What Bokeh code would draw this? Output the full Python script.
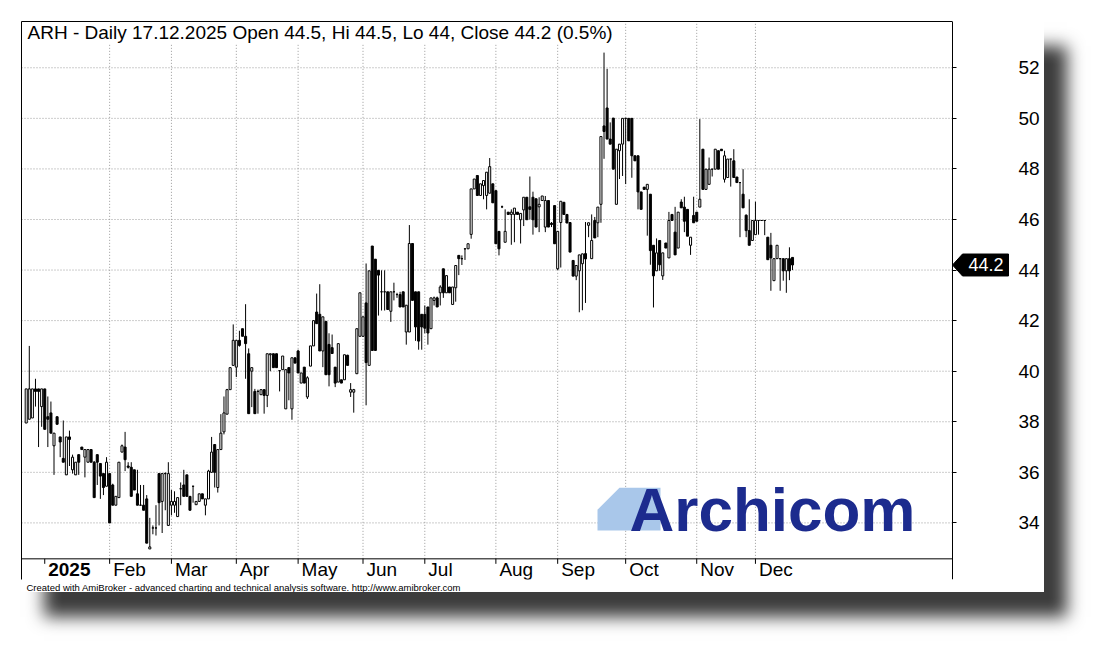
import pandas as pd
from bokeh.plotting import figure
from bokeh.models import (Range1d, FixedTicker, LinearAxis, Label,
                          Title, ColumnDataSource)
from bokeh.embed import file_html
from bokeh.resources import INLINE
from bokeh.core.properties import value

# ---------------- data (ARH daily, 18.12.2024 - 17.12.2025) ----------------
opens = [
    37.95, 38.1, 38.15, 39.3, 39.3, 38.6, 39.3, 38.2, 38.35, 37.05,
    38.2, 37.4, 36.55, 35.9, 37.4, 36.1, 35.9, 36.7, 37.0, 36.6,
    36.4, 36.9, 36.4, 36.7, 36.35, 35.95, 35.45, 35.95, 35.5, 34.7,
    35.0, 36.8, 37.0, 36.25, 36.2, 36.1, 35.15, 34.7, 34.7, 34.95,
    32.97, 33.8, 33.8, 35.95, 34.85, 35.95, 33.9, 34.7, 34.7, 34.25,
    35.35, 35.5, 35.9, 35.05, 35.45, 34.72, 34.85, 35.15, 34.7, 34.95,
    36.0, 37.1, 35.4, 36.9, 37.6, 38.3, 39.27, 40.23, 40.16, 41.22,
    41.68, 41.38, 40.69, 40.0, 39.2, 39.2, 39.07, 39.27, 39.04, 40.65,
    40.69, 40.69, 40.02, 40.06, 38.51, 40.14, 38.51, 40.53, 40.8, 39.53,
    40.16, 38.98, 40.2, 41.0, 42.34, 42.25, 40.8, 41.97, 41.06, 40.93,
    40.16, 39.57, 39.66, 39.66, 40.63, 39.17, 39.17, 39.9, 41.38, 41.38,
    42.7, 40.23, 44.95, 44.43, 43.99, 43.14, 43.14, 43.14, 42.37, 43.14,
    43.03, 43.03, 43.14, 41.55, 41.55, 45.05, 43.14, 43.14, 42.25, 42.25,
    42.54, 41.68, 42.8, 42.9, 43.1, 44.05, 43.1, 43.33, 42.64, 43.3,
    44.58, 44.45, 44.84, 44.84, 45.41, 47.21, 47.74, 46.95, 47.34, 46.95,
    47.04, 47.41, 47.14, 45.53, 46.5, 45.1, 46.29, 46.2, 46.2, 46.29,
    45.99, 46.38, 46.88, 46.5, 46.88, 46.82, 46.5, 46.75, 45.7, 46.75,
    45.85, 46.55, 44.05, 45.88, 46.68, 46.2, 45.88, 44.38, 43.76, 43.97,
    44.25, 44.65, 45.77, 44.45, 45.96, 45.87, 46.6, 49.7, 50.41, 49.18,
    50.01, 46.6, 48.72, 48.98, 50.0, 50.0, 50.0, 48.52, 48.52, 47.09,
    47.28, 47.19, 47.0, 44.98, 43.97, 45.17, 43.77, 45.07, 44.48, 46.2,
    45.5, 44.87, 46.69, 46.49, 46.4, 44.98, 46.16, 46.29, 46.49, 48.78,
    47.19, 47.39, 47.99, 47.99, 48.72, 48.78, 47.59, 47.66, 48.39, 48.32,
    47.68, 47.46, 47.0, 46.17, 45.56, 45.17, 45.4, 45.96, 45.96, 45.96,
    45.3, 44.98, 43.58, 44.45, 44.45, 44.45, 43.97, 44.45, 44.5,
]
highs = [
    39.3, 41.0, 39.3, 39.7, 39.3, 39.3, 39.3, 39.0, 38.8, 37.55,
    38.2, 37.4, 38.05, 37.4, 37.65, 36.7, 36.4, 36.7, 37.0, 36.9,
    36.9, 36.9, 36.45, 36.7, 36.35, 35.95, 36.6, 35.95, 35.55, 35.05,
    36.4, 37.1, 37.6, 36.4, 36.4, 36.1, 36.1, 35.5, 35.5, 35.1,
    34.2, 33.9, 34.7, 35.95, 35.95, 36.0, 36.4, 35.3, 35.25, 35.0,
    35.6, 36.1, 35.9, 35.05, 35.45, 34.85, 35.15, 35.15, 34.95, 36.1,
    37.4, 37.1, 36.9, 38.3, 39.0, 39.3, 40.14, 41.85, 41.22, 41.6,
    41.68, 42.65, 40.9, 40.14, 39.3, 39.27, 39.27, 39.27, 40.69, 40.69,
    40.69, 40.69, 40.02, 40.6, 40.06, 40.16, 40.53, 40.53, 40.85, 39.93,
    40.16, 39.8, 41.0, 42.0, 43.07, 43.44, 42.15, 41.97, 41.5, 41.45,
    40.16, 41.09, 39.66, 40.65, 40.65, 39.53, 39.3, 41.68, 43.1, 42.15,
    44.26, 43.97, 44.95, 44.43, 43.99, 43.99, 43.99, 43.14, 43.14, 43.5,
    43.1, 43.14, 43.14, 42.61, 45.78, 45.05, 43.14, 43.14, 42.25, 42.6,
    42.54, 42.9, 42.95, 42.95, 43.4, 44.05, 43.78, 43.33, 43.33, 44.18,
    44.58, 44.58, 44.84, 45.04, 47.21, 47.6, 47.74, 47.41, 47.54, 47.87,
    48.43, 47.41, 47.14, 45.53, 46.55, 46.4, 46.29, 46.4, 46.45, 46.29,
    46.24, 46.88, 46.88, 47.7, 47.1, 46.82, 46.88, 46.93, 46.93, 46.75,
    45.9, 46.55, 45.53, 46.72, 46.68, 46.2, 45.88, 44.38, 44.2, 44.6,
    44.65, 45.9, 45.87, 46.2, 46.1, 46.49, 49.28, 52.6, 51.96, 49.84,
    50.01, 48.78, 48.98, 50.0, 50.0, 50.0, 50.0, 48.52, 48.52, 47.09,
    47.28, 47.39, 47.0, 44.98, 45.25, 45.17, 44.68, 45.07, 46.3, 46.2,
    46.5, 46.29, 46.8, 46.9, 46.4, 45.3, 46.9, 46.29, 49.97, 48.78,
    47.99, 48.45, 47.99, 48.78, 48.72, 48.78, 48.72, 48.39, 48.4, 48.78,
    47.68, 47.46, 47.99, 46.2, 46.8, 45.96, 46.7, 45.96, 45.96, 45.96,
    45.3, 45.47, 44.45, 44.98, 44.45, 44.45, 44.45, 44.9, 44.5,
]
lows = [
    37.95, 38.1, 38.15, 38.6, 37.0, 37.8, 37.7, 37.0, 37.55, 35.9,
    37.9, 36.6, 36.4, 35.9, 36.25, 35.95, 35.9, 35.9, 36.9, 35.8,
    36.4, 36.4, 35.0, 35.5, 34.95, 35.1, 35.45, 34.0, 34.7, 34.7,
    35.0, 36.8, 36.05, 36.15, 35.05, 35.3, 34.7, 34.7, 34.5, 33.2,
    32.97, 33.55, 33.5, 33.9, 33.6, 34.5, 33.9, 34.3, 34.4, 34.25,
    34.7, 35.05, 35.05, 34.5, 34.8, 34.72, 34.85, 34.95, 34.3, 34.95,
    36.0, 35.4, 35.2, 36.9, 37.5, 38.3, 39.27, 40.23, 39.77, 40.97,
    41.38, 39.7, 38.32, 38.58, 38.32, 38.32, 39.07, 38.32, 38.58, 40.0,
    40.14, 40.14, 39.2, 40.06, 38.51, 38.85, 38.08, 40.32, 39.93, 39.53,
    39.53, 38.9, 40.2, 41.0, 41.88, 40.8, 40.16, 39.86, 39.4, 40.7,
    39.37, 39.57, 39.53, 39.66, 40.23, 38.98, 38.36, 39.9, 41.38, 41.38,
    38.65, 40.23, 40.82, 40.82, 42.2, 42.4, 42.4, 42.44, 41.95, 42.8,
    42.9, 42.54, 42.54, 41.05, 41.55, 42.8, 41.2, 40.85, 40.85, 41.5,
    41.05, 41.68, 42.6, 42.54, 42.6, 42.9, 43.1, 43.1, 42.64, 42.75,
    43.8, 44.2, 44.4, 44.84, 45.24, 47.21, 46.95, 46.95, 46.8, 46.4,
    47.04, 46.66, 45.04, 44.58, 46.45, 45.1, 46.2, 45.0, 45.1, 46.2,
    45.05, 45.74, 45.99, 46.0, 45.4, 45.7, 45.5, 46.75, 45.5, 45.7,
    45.7, 45.04, 44.0, 44.1, 46.2, 45.86, 44.71, 43.76, 43.6, 42.33,
    42.41, 42.7, 45.3, 44.45, 45.27, 45.3, 45.87, 48.4, 49.18, 48.98,
    47.99, 46.6, 47.6, 47.72, 47.4, 49.11, 47.65, 48.32, 46.4, 46.4,
    47.19, 45.36, 44.21, 42.52, 43.97, 43.97, 43.61, 44.87, 44.48, 45.96,
    44.6, 44.87, 46.46, 45.5, 45.34, 44.6, 45.87, 45.93, 46.49, 47.19,
    47.19, 47.39, 47.7, 47.99, 47.99, 48.72, 47.46, 47.66, 47.3, 47.66,
    47.46, 45.3, 46.46, 45.3, 44.98, 45.17, 45.4, 45.4, 45.96, 45.38,
    44.41, 43.18, 43.58, 44.45, 43.18, 43.58, 43.1, 43.6, 44.0,
]
closes = [
    39.3, 39.3, 39.3, 39.2, 39.2, 39.3, 37.7, 38.1, 37.55, 37.55,
    37.9, 37.2, 36.4, 37.4, 37.3, 36.6, 36.4, 36.4, 36.9, 36.9,
    36.9, 36.4, 35.0, 36.4, 35.85, 35.4, 36.4, 34.0, 34.7, 35.05,
    36.4, 37.05, 36.5, 36.2, 35.05, 35.3, 34.7, 34.7, 34.5, 33.2,
    33.05, 33.8, 33.8, 34.8, 35.95, 35.95, 35.95, 34.85, 34.85, 35.0,
    35.35, 35.05, 35.05, 34.5, 35.45, 34.85, 35.15, 34.95, 34.95, 36.05,
    36.8, 36.0, 36.9, 37.55, 38.35, 39.27, 40.14, 41.22, 41.22, 41.02,
    41.38, 41.09, 38.32, 40.14, 38.32, 39.2, 39.27, 39.04, 40.69, 40.69,
    40.14, 40.14, 40.02, 40.6, 40.06, 39.93, 40.53, 40.32, 39.93, 39.93,
    39.53, 39.74, 41.0, 42.0, 41.88, 40.8, 42.15, 39.86, 39.86, 40.7,
    39.53, 41.09, 39.53, 40.65, 40.23, 39.27, 39.27, 41.68, 43.1, 42.15,
    40.34, 43.97, 40.82, 40.82, 43.8, 43.14, 43.14, 42.44, 43.14, 43.14,
    43.03, 42.54, 42.54, 42.61, 45.05, 42.8, 41.75, 41.19, 41.75, 41.7,
    41.51, 42.9, 42.9, 42.54, 43.33, 43.1, 43.78, 43.1, 43.33, 44.18,
    44.45, 44.45, 44.84, 45.04, 47.21, 47.6, 46.95, 47.41, 47.54, 47.87,
    48.09, 46.66, 45.04, 44.84, 46.5, 45.53, 46.2, 46.29, 46.45, 46.2,
    46.24, 46.88, 45.99, 46.4, 45.99, 45.7, 46.6, 46.93, 46.75, 45.7,
    45.8, 45.04, 45.53, 46.72, 46.2, 45.86, 44.71, 43.76, 44.18, 44.6,
    44.64, 44.44, 45.87, 45.17, 45.27, 46.49, 49.28, 49.48, 49.18, 48.98,
    47.99, 48.78, 48.98, 50.0, 50.0, 49.11, 48.52, 48.32, 47.09, 46.4,
    47.19, 47.39, 44.77, 43.77, 44.68, 44.21, 44.68, 44.87, 45.96, 45.96,
    44.6, 46.29, 46.46, 45.93, 45.34, 45.3, 45.87, 45.93, 46.8, 47.19,
    47.99, 47.99, 47.99, 48.78, 47.99, 48.72, 48.52, 48.39, 48.39, 47.66,
    47.46, 47.46, 46.46, 45.56, 44.98, 45.96, 45.96, 45.96, 45.96, 45.96,
    44.41, 44.48, 44.45, 44.98, 44.45, 43.97, 44.45, 43.97, 44.2,
]
month_labels = ["2025", "Feb", "Mar", "Apr", "May", "Jun", "Jul", "Aug",
                "Sep", "Oct", "Nov", "Dec"]
y_ticks = [34, 36, 38, 40, 42, 44, 46, 48, 50, 52]
last_price = "44.2"
title_text = "ARH - Daily 17.12.2025 Open 44.5, Hi 44.5, Lo 44, Close 44.2 (0.5%)"
footer_text = ("Created with AmiBroker - advanced charting and technical analysis "
               "software. http://www.amibroker.com")

# trading calendar (GPW holidays)
holidays = {"2024-12-24", "2024-12-25", "2024-12-26", "2024-12-31", "2025-01-01",
            "2025-01-06", "2025-04-18", "2025-04-21", "2025-05-01", "2025-06-19",
            "2025-08-15", "2025-11-11"}
dates = [d for d in pd.bdate_range("2024-12-18", "2025-12-17")
         if d.strftime("%Y-%m-%d") not in holidays]
dates = dates[-len(closes):]
idx = list(range(len(closes)))
month_idx = [i for i in idx if (i > 0 and dates[i].month != dates[i - 1].month)]

# ---------------- layout helpers (page pixels -> data) ----------------
X_PX0, X_STEP = 25.7, 3.09
Y_PX34, Y_STEP = 523.3, 25.33
def px_x(px):
    return (px - X_PX0) / X_STEP
def px_y(py):
    return 34 + (Y_PX34 - py) / Y_STEP

FONT = "Liberation Sans"
AXIS_X = px_x(952)     # price axis position
LEFT_X = px_x(21)
p = figure(width=1023, height=571,
           x_range=Range1d(LEFT_X, px_x(1044)), y_range=Range1d(px_y(580), px_y(21)),
           output_backend="svg", toolbar_location=None,
           x_axis_location=None, y_axis_location=None,
           min_border_left=0, min_border_top=0, min_border_right=0, min_border_bottom=12,
           background_fill_color="white", border_fill_color="white",
           outline_line_color=None)
p.styles = {"margin-left": "21px", "margin-top": "21px",
            "box-shadow": "23px 25px 16px #3c3c3c"}
p.xgrid.visible = False
p.ygrid.visible = False

# price axis (real axis, pinned at the right edge of the chart area)
yax = LinearAxis(fixed_location=AXIS_X, ticker=FixedTicker(ticks=y_ticks),
                 major_tick_out=4, major_tick_in=0, minor_tick_out=0, minor_tick_in=0,
                 major_label_standoff=62, major_label_text_font=FONT,
                 major_label_text_font_size="19px", major_label_text_color="black",
                 axis_line_color="black", major_tick_line_color="black")
p.add_layout(yax, "right")

# frame border lines (left / top) as bare axes
p.add_layout(LinearAxis(ticker=FixedTicker(ticks=[]), major_tick_out=0, major_tick_in=0,
                        minor_tick_out=0, minor_tick_in=0, major_label_standoff=0,
                        major_label_text_font_size="0px", axis_line_color="black"), "left")
p.add_layout(LinearAxis(ticker=FixedTicker(ticks=[]), major_tick_out=0, major_tick_in=0,
                        minor_tick_out=0, minor_tick_in=0, major_label_standoff=0,
                        major_label_text_font_size="0px", axis_line_color="black",
                        bounds=(LEFT_X, AXIS_X)), "above")

sep_y = px_y(559.3)
top_y = px_y(21)
# dotted grid
p.segment(x0=[LEFT_X] * len(y_ticks), y0=y_ticks, x1=[AXIS_X] * len(y_ticks), y1=y_ticks,
          line_color="#9a9a9a", line_dash="1 2", line_width=1)
gx = month_idx[1:]
p.segment(x0=gx, y0=[sep_y] * len(gx), x1=gx, y1=[top_y] * len(gx),
          line_color="#9a9a9a", line_dash="1 2", line_width=1)
# date separator line and month ticks
p.segment(x0=[LEFT_X], y0=[sep_y], x1=[AXIS_X], y1=[sep_y], line_color="black", line_width=1)
p.segment(x0=month_idx, y0=[sep_y] * len(month_idx), x1=month_idx,
          y1=[sep_y - 5 / Y_STEP] * len(month_idx), line_color="black", line_width=1)

lab_y = px_y(570)
off = 3.5 / X_STEP
p.text(x=[month_idx[0] + off], y=[lab_y], text=[month_labels[0]],
       text_font=value(FONT), text_font_size="19px", text_font_style="bold",
       text_align="left", text_baseline="middle", text_color="black")
p.text(x=[m + off for m in month_idx[1:]], y=[lab_y] * (len(month_idx) - 1),
       text=month_labels[1:], text_font=value(FONT), text_font_size="19px",
       text_align="left", text_baseline="middle", text_color="black")

# logo
p.patch(x=[px_x(v) for v in (597, 597, 619, 660, 660)],
        y=[px_y(v) for v in (531, 510, 488, 488, 531)],
        fill_color="#a9c7ea", line_color=None)
p.add_layout(Label(x=px_x(629), y=px_y(510), text="Archicom", text_font=FONT,
                   text_font_size="62px", text_font_style="bold", text_color="#1c2b8e",
                   text_baseline="middle", text_align="left"))

# candlesticks
src = ColumnDataSource(dict(
    x=idx, o=opens, h=highs, l=lows, c=closes,
    top=[max(a, b) for a, b in zip(opens, closes)],
    bottom=[min(a, b) for a, b in zip(opens, closes)],
    fill=["white" if c >= o else "black" for o, c in zip(opens, closes)],
))
p.segment(x0="x", y0="l", x1="x", y1="h", source=src, line_color="black", line_width=1)
p.vbar(x="x", width=0.66, top="top", bottom="bottom", source=src,
       fill_color="fill", line_color="black", line_width=1)

# title inside the chart
p.add_layout(Label(x=px_x(27), y=px_y(32.5), text=title_text, text_font=FONT,
                   text_font_size="19px", text_color="black", text_baseline="middle",
                   background_fill_color="white"))

# last price tag on the axis
lp = closes[-1]
hh = 11 / Y_STEP
p.patch(x=[AXIS_X, px_x(962), px_x(1008), px_x(1008), px_x(962)],
        y=[lp, lp + hh, lp + hh, lp - hh, lp - hh], fill_color="black", line_color="black")
p.text(x=[px_x(968)], y=[lp], text=[last_price], text_font=value(FONT),
       text_font_size="18px", text_color="white", text_baseline="middle", text_align="left")

p.add_layout(Title(text=footer_text, align="left", offset=5, standoff=0,
                   text_font=FONT, text_font_size="9.5px", text_font_style="normal",
                   text_color="black"), "below")

open("out.html", "w").write(file_html(p, INLINE))
